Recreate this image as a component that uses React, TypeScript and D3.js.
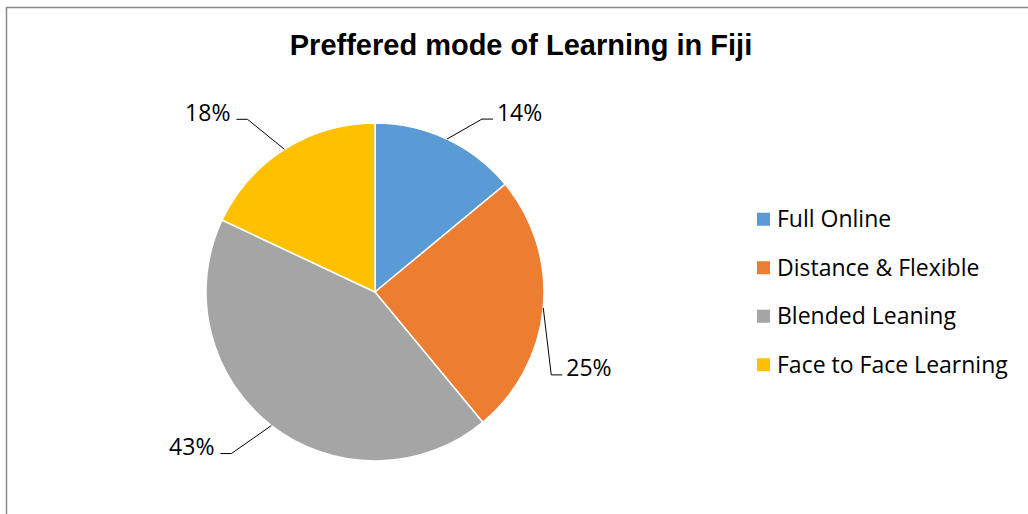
import React from "react";
import * as d3 from "d3";

const categories = ["Full Online", "Distance & Flexible", "Blended Leaning", "Face to Face Learning"];
const values = [14, 25, 43, 18];
const colors = ["#5B9BD5", "#ED7D31", "#A5A5A5", "#FFC000"];
const title = "Preffered mode of Learning in Fiji";
// label placement offsets (layout only): from slice edge point to the label elbow end
const labelOffsets: [number, number][] = [
  [46, -20],
  [19, 67],
  [-51, 28],
  [-48, -30],
];

const W = 1028;
const H = 514;
const cx = 375;
const cy = 292;
const R = 169;
const labelFont = "'Open Sans', sans-serif";

export default function App() {
  const pie = d3.pie<number>().sort(null).value((d) => d).startAngle(0).endAngle(2 * Math.PI);
  const arcs = pie(values);
  const arcGen = d3.arc<d3.PieArcDatum<number>>().innerRadius(0).outerRadius(R);
  const total = d3.sum(values);

  const legendY = d3.scaleBand<string>().domain(categories).range([195, 389]);

  return (
    <svg width={W} height={H} style={{ position: "fixed", left: 0, top: 0, background: "#fff" }}>
      <rect x={6.5} y={7.5} width={W + 20} height={H + 20} fill="#fff" stroke="#8a8a8a" strokeWidth={1.5} />
      <text x={521} y={55} textAnchor="middle" fontFamily="'Liberation Sans', Arial, sans-serif" fontWeight="bold" fontSize={29} fill="#000">
        {title}
      </text>
      <g transform={`translate(${cx},${cy})`}>
        {arcs.map((a, i) => (
          <path key={i} d={arcGen(a) || ""} fill={colors[i]} stroke="#fff" strokeWidth={1.5} />
        ))}
      </g>
      {arcs.map((a, i) => {
        const mid = (a.startAngle + a.endAngle) / 2;
        const ex = cx + R * Math.sin(mid);
        const ey = cy - R * Math.cos(mid);
        const [dx, dy] = labelOffsets[i];
        const lx = ex + dx;
        const ly = ey + dy;
        const right = dx > 0;
        const hx = right ? lx - 11 : lx + 11;
        const pct = Math.round((values[i] / total) * 100) + "%";
        return (
          <g key={i}>
            <polyline points={`${ex},${ey} ${hx},${ly} ${lx},${ly}`} fill="none" stroke="#000" strokeWidth={1} />
            <text
              x={right ? lx + 4 : lx - 6}
              y={ly + 1.5}
              textAnchor={right ? "start" : "end"}
              fontFamily={labelFont}
              fontSize={23}
              fill="#000"
            >
              {pct}
            </text>
          </g>
        );
      })}
      {categories.map((c, i) => {
        const yc = (legendY(c) || 0) + legendY.bandwidth() / 2;
        return (
          <g key={c}>
            <rect x={757} y={yc - 6.5} width={13} height={13} fill={colors[i]} />
            <text x={777} y={yc + 8} fontFamily={labelFont} fontSize={23} fill="#000">
              {c}
            </text>
          </g>
        );
      })}
    </svg>
  );
}
